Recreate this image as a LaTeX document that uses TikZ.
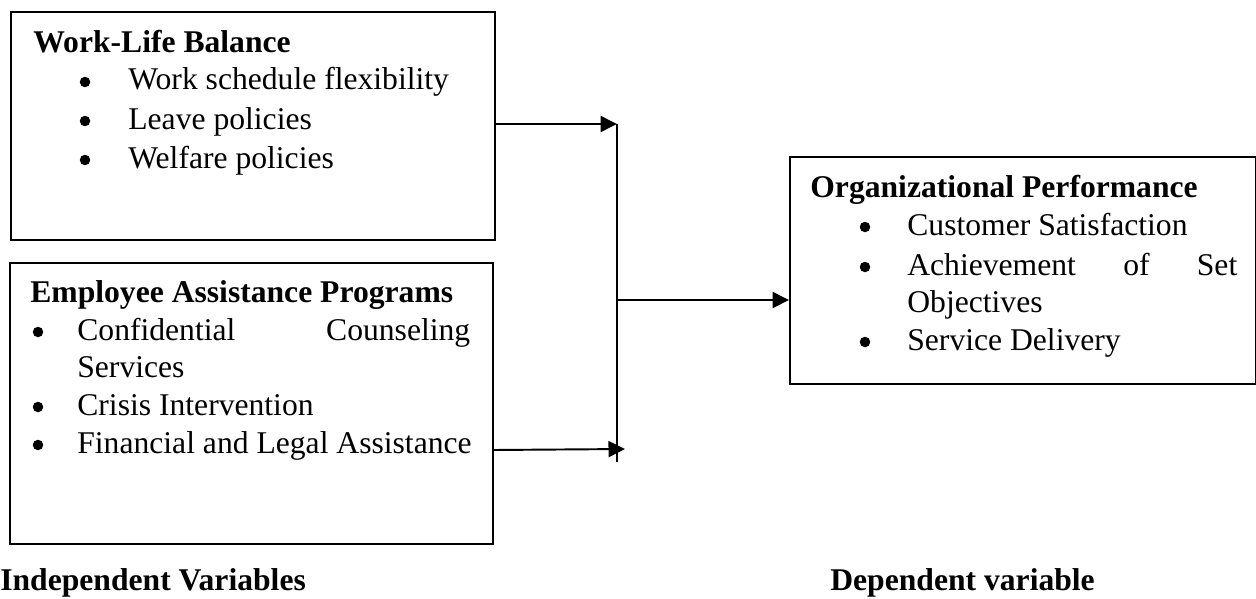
\documentclass[tikz,border=0pt]{standalone}
\usepackage{fontspec}
\setmainfont{Liberation Serif}
\usetikzlibrary{arrows.meta}
\tikzset{
  varbox/.style={draw,line width=1.1pt,anchor=north west,inner sep=0pt},
  line/.style={anchor=base west,inner sep=0pt},
  bul/.style={circle,fill,inner sep=0pt,minimum size=0.21cm},
  link/.style={line width=1.1pt,-{Triangle[length=0.33cm,width=0.32cm]}}
}
\begin{document}
\fontsize{18}{22}\selectfont
\begin{tikzpicture}[x=0.02cm,y=-0.02cm]
\useasboundingbox (0,0) rectangle (1256,598);
% independent variables
\node[varbox,minimum width=9.68cm,minimum height=4.56cm] (wlb) at (10,11) {};
\node[line] (wlbhead) at (33,52) {\textbf{Work-Life Balance}};
\node[bul] at (85,82) {};
\node[line] (wlb1) at (128,90) {Work schedule flexibility};
\node[bul] at (85,121) {};
\node[line] (wlb2) at (128,129) {Leave policies};
\node[bul] at (85,160) {};
\node[line] (wlb3) at (128,168) {Welfare policies};
\node[varbox,minimum width=9.66cm,minimum height=5.62cm] (eap) at (9,262) {};
\node[line] (eaphead) at (30,302) {\textbf{Employee Assistance Programs}};
\node[bul] at (38,332) {};
\node[line] (eap1) at (77,340) {\makebox[7.86cm][s]{Confidential Counseling}};
\node[line] (eap1b) at (77,377) {Services};
\node[bul] at (38,407) {};
\node[line] (eap2) at (77,415) {Crisis Intervention};
\node[bul] at (38,445) {};
\node[line] (eap3) at (77,453) {Financial and Legal Assistance};
% dependent variable
\node[varbox,minimum width=9.32cm,minimum height=4.54cm] (op) at (789,156) {};
\node[line] (ophead) at (810,197) {\textbf{Organizational Performance}};
\node[bul] at (865,227) {};
\node[line] (op1) at (907,235) {Customer Satisfaction};
\node[bul] at (865,267) {};
\node[line] (op2) at (907,275) {\makebox[6.6cm][s]{Achievement of Set}};
\node[line] (op2b) at (907,312) {Objectives};
\node[bul] at (865,342) {};
\node[line] (op3) at (907,350) {Service Delivery};
% captions
\node[line] (indep) at (0,590) {\textbf{Independent Variables}};
\node[line] (dep) at (830,590) {\textbf{Dependent variable}};
% connectors
\coordinate (jtop) at (617,124);
\coordinate (jbot) at (617,462);
\coordinate (jmid) at (617,300);
\coordinate (jin) at (625,449);
\draw[line width=1.1pt] (jtop) -- (jbot);
\draw[link] (wlb.east |- jtop) -- (jtop);
\draw[link] (eap.east |- 0,450) -- (jin);
\draw[link] (jmid) -- (op.west |- jmid);
\end{tikzpicture}
\end{document}
